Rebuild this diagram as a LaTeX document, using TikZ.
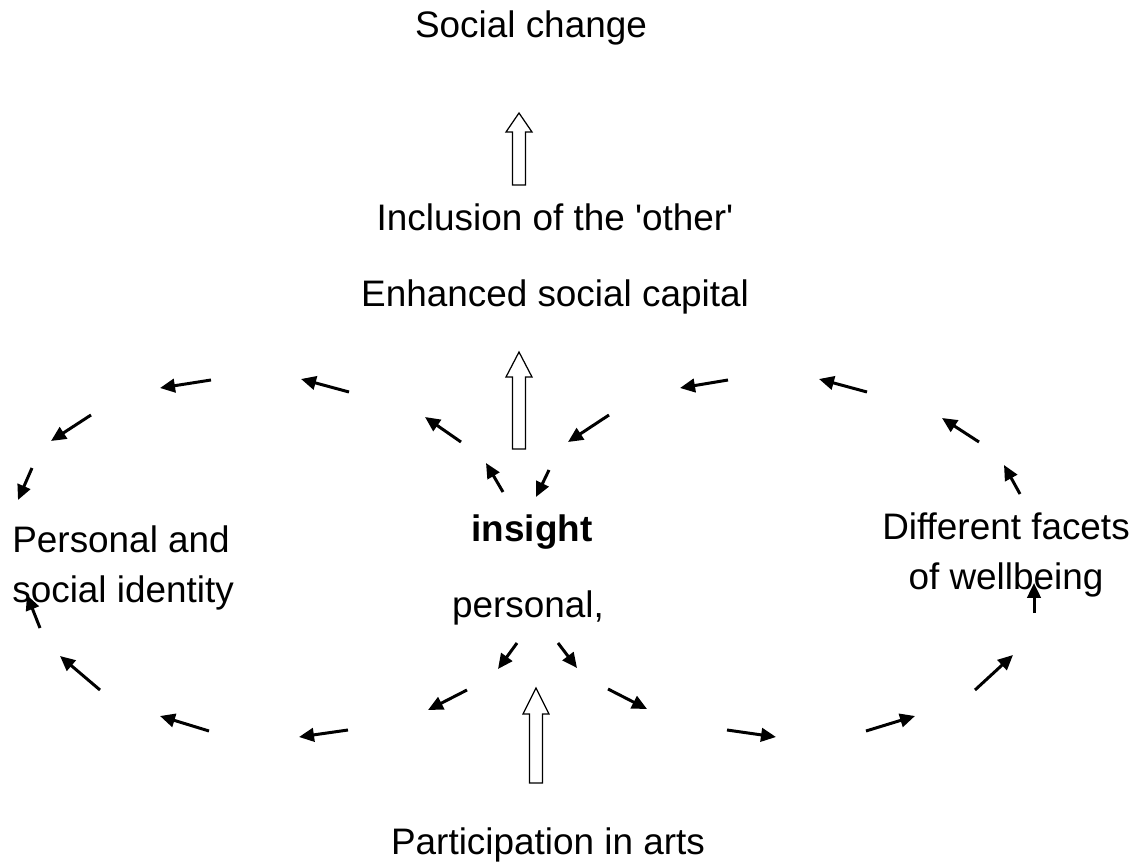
\documentclass[tikz,border=0pt]{standalone}
\usepackage{fontspec}
\setmainfont{Liberation Sans}
\usetikzlibrary{arrows.meta}
\tikzset{
    lbl/.style={inner sep=0pt, font=\fontsize{21}{28.5}\selectfont},
    smallarr/.style={line width=1.7pt, -{Triangle[length=0.3cm, width=0.27cm]}},
    hollowarr/.style={line width=0.7pt, fill=white, line join=miter}
}
\begin{document}
\begin{tikzpicture}[x=0.02cm, y=-0.02cm]
        \useasboundingbox (0,0) rectangle (1140,868);
        % ---- labels ----
        \node[lbl, anchor=base] (change) at (531,38) {Social change};
        \node[lbl, anchor=base] (incl) at (555,231) {Inclusion of the \textquotesingle other\textquotesingle};
        \node[lbl, anchor=base] (capital) at (555,307) {Enhanced social capital};
        \node[lbl, anchor=base, font=\fontsize{21}{28.5}\selectfont\bfseries] (insight) at (532,541) {insight};
        \node[lbl, anchor=base] (personal) at (528,617) {personal,};
        \node[lbl, anchor=base] (arts) at (548,854) {Participation in arts};
        \node[lbl, anchor=west, align=left] (identity) at (12,568) {Personal and\\social identity};
        \node[lbl, align=center] (wellbeing) at (1006,555) {Different facets\\of wellbeing};
        % ---- hollow arrows (x / tail / head base / tip) ----
        \foreach \ax/\ab/\ah/\at in {519/185/132/113, 519/449/377/352, 536/783/714/688} {
            \draw[hollowarr] (\ax-6.5,\ab) -- (\ax-6.5,\ah) -- (\ax-13,\ah) -- (\ax,\at)
                -- (\ax+13,\ah) -- (\ax+6.5,\ah) -- (\ax+6.5,\ab) -- cycle;
        }
        % ---- left loop ----
        \foreach \tx/\ty/\hx/\hy in {211/380/160/388, 349/392/301/379, 91/415/51/441,
                32/468/18/500, 40/628/27/595, 100/690/60/656, 209/731/160/716,
                348/730/299/737, 461/442/425/417, 503/492/486/463, 517/643/498/669,
                467/690/428/710} {
            \draw[smallarr] (\tx,\ty) -- (\hx,\hy);
        }
        % ---- right loop ----
        \foreach \tx/\ty/\hx/\hy in {728/380/680/388, 867/392/819/379, 979/442/942/418,
                1020/494/1004/465, 1034/613/1034/583, 975/690/1013/655, 866/731/915/716,
                727/730/776/737, 609/415/568/442, 549/470/536/497, 558/643/577/668,
                608/689/647/709} {
            \draw[smallarr] (\tx,\ty) -- (\hx,\hy);
        }
\end{tikzpicture}
\end{document}
